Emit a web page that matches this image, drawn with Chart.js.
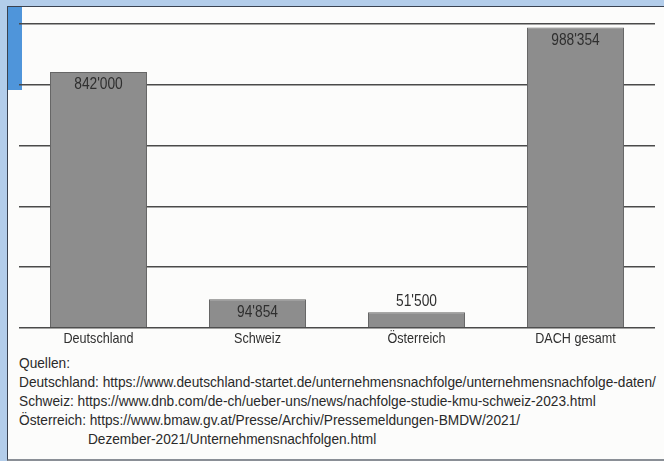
<!DOCTYPE html>
<html>
<head>
<meta charset="utf-8">
<script src="https://cdn.jsdelivr.net/npm/chart.js@4"></script>
<style>
  html, body { margin:0; padding:0; }
  body { width:664px; height:461px; background:#b3cdea; position:relative; overflow:hidden;
         font-family:"Liberation Sans",Arial,sans-serif; }
  #panel { position:absolute; left:7px; top:6px; width:657px; height:452px; background:#fcfcfb;
           border-top:1px solid #3a4250; border-left:1px solid #3a4250; border-bottom:2px solid #8a8f96; }
  #blue { position:absolute; left:8px; top:7px; width:14px; height:83px; background:#4f95da; }
  #wrap { position:absolute; left:0; top:0; width:664px; height:350px; }
  #src { position:absolute; left:19px; top:354px; font-size:14.5px; line-height:19px; color:#2a2a2a; white-space:nowrap;
         transform:scaleX(0.944); transform-origin:0 0; }
  #src .ind { padding-left:73px; }
</style>
</head>
<body>
<div id="panel"></div>
<div id="blue"></div>
<div id="wrap"><canvas id="c" width="664" height="350"></canvas></div>
<div id="src">
  <div>Quellen:</div>
  <div>Deutschland: https://www.deutschland-startet.de/unternehmensnachfolge/unternehmensnachfolge-daten/</div>
  <div>Schweiz: https://www.dnb.com/de-ch/ueber-uns/news/nachfolge-studie-kmu-schweiz-2023.html</div>
  <div>Österreich: https://www.bmaw.gv.at/Presse/Archiv/Pressemeldungen-BMDW/2021/</div>
  <div class="ind">Dezember-2021/Unternehmensnachfolgen.html</div>
</div>
<script>
const categories = ["Deutschland", "Schweiz", "Österreich", "DACH gesamt"];
const values = [842000, 94854, 51500, 988354];
const yTicks = [0, 200000, 400000, 600000, 800000, 1000000];

const FONT = '"Liberation Sans",Arial,sans-serif';
Chart.defaults.font.family = FONT;

function fmt(v) {
  return String(v).replace(/\B(?=(\d{3})+(?!\d))/g, "'");
}

function narrowText(ctx, text, x, y, size, sx) {
  ctx.save();
  ctx.font = size + 'px ' + FONT;
  ctx.translate(x, y);
  ctx.scale(sx, 1);
  ctx.fillText(text, 0, 0);
  ctx.restore();
}

const textPlugin = {
  id: 'textPlugin',
  afterDatasetsDraw(chart) {
    const ctx = chart.ctx;
    const meta = chart.getDatasetMeta(0);
    ctx.save();
    ctx.fillStyle = '#2f2f2f';
    ctx.textAlign = 'center';
    ctx.textBaseline = 'middle';
    meta.data.forEach((bar, i) => {
      const h = bar.base - bar.y;
      const y = h > 25 ? bar.y + 13 : bar.y - 11;
      narrowText(ctx, fmt(values[i]), bar.x, y, 16, 0.86);
      narrowText(ctx, categories[i], bar.x, chart.chartArea.bottom + 11, 15, 0.84);
    });
    ctx.restore();
  }
};

new Chart(document.getElementById('c'), {
  type: 'bar',
  data: {
    labels: categories,
    datasets: [{
      data: values,
      backgroundColor: '#8d8d8d',
      borderColor: '#666666',
      borderWidth: 1,
      barPercentage: 0.61,
      categoryPercentage: 1.0
    }]
  },
  options: {
    responsive: false,
    animation: false,
    events: [],
    layout: { padding: { left: 19, right: 9, top: 24, bottom: 2 } },
    plugins: { legend: { display: false }, tooltip: { enabled: false } },
    scales: {
      x: {
        grid: { display: false },
        border: { display: false },
        ticks: { display: false },
        afterFit(s) { s.height = 20; }
      },
      y: {
        min: 0, max: 1000000,
        afterBuildTicks(s) { s.ticks = yTicks.map(v => ({ value: v })); },
        grid: { color: '#4a4a4a', lineWidth: 1.5, drawTicks: false },
        border: { display: false },
        ticks: { display: false }
      }
    }
  },
  plugins: [textPlugin]
});
</script>
</body>
</html>
